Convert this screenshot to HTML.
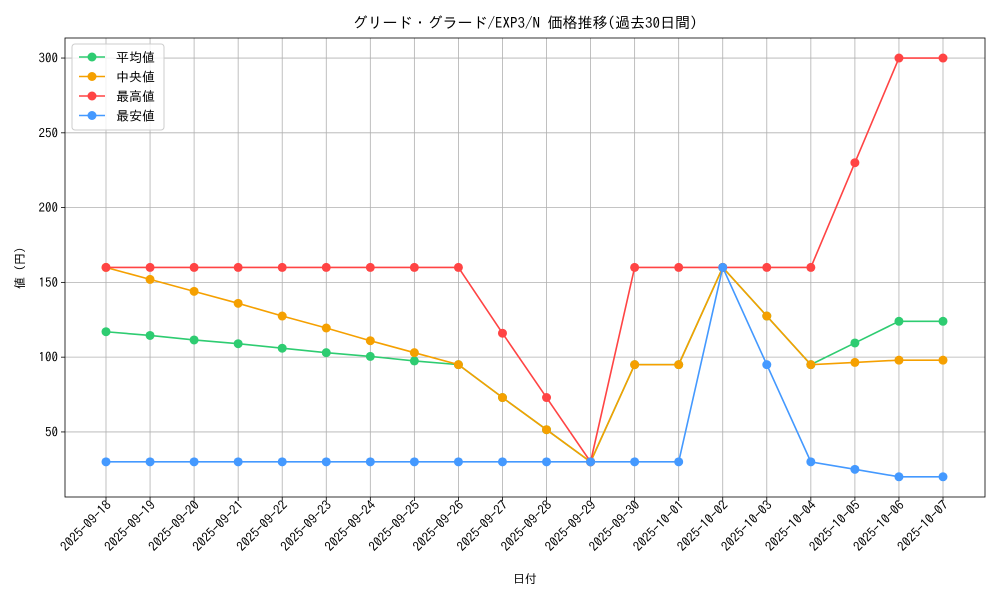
<!DOCTYPE html>
<html><head><meta charset="utf-8"><style>
body{margin:0;background:#fff;}
svg text{font-family:"IPAGothic","Liberation Sans","Noto Sans CJK JP",sans-serif;fill:#000;}
</style></head><body>
<svg id="chart" width="1000" height="600" xmlns="http://www.w3.org/2000/svg"></svg>
<script>
const categories=["2025-09-18","2025-09-19","2025-09-20","2025-09-21","2025-09-22","2025-09-23","2025-09-24","2025-09-25","2025-09-26","2025-09-27","2025-09-28","2025-09-29","2025-09-30","2025-10-01","2025-10-02","2025-10-03","2025-10-04","2025-10-05","2025-10-06","2025-10-07"];
const meanValues=[117,114.5,111.5,109,106,103,100.5,97.5,95,73,51.5,30,95,95,160,127.5,95,109.5,124,124];
const medianValues=[160,152,144,136,127.5,119.5,111,103,95,73,51.5,30,95,95,160,127.5,95,96.5,98,98];
const maxValues=[160,160,160,160,160,160,160,160,160,116,73,30,160,160,160,160,160,230,300,300];
const minValues=[30,30,30,30,30,30,30,30,30,30,30,30,30,30,160,95,30,25,20,20];
const yTicks=[50,100,150,200,250,300];
const seriesNames=["平均値","中央値","最高値","最安値"];
const NS="http://www.w3.org/2000/svg";
const svg=document.getElementById('chart');
const L=65,R=985,T=38,B=497,yMin=6.5,yMax=313.4;
const x=i=>106+i*(943-106)/(categories.length-1);
const y=v=>B-(v-yMin)/(yMax-yMin)*(B-T);
function el(t,a,p){const e=document.createElementNS(NS,t);for(const k in a)e.setAttribute(k,a[k]);(p||svg).appendChild(e);return e;}
categories.forEach((c,i)=>{
 const g=el('line',{x1:x(i),x2:x(i),y1:T,y2:B,stroke:'#b0b0b0','stroke-width':0.8});
 
 
 el('line',{x1:x(i),x2:x(i),y1:B,y2:B+4,stroke:'#000','stroke-width':0.8});
 const t=el('text',{x:0,y:0,'font-size':13,'text-anchor':'end',transform:`translate(${x(i)+6},${B+9}) rotate(-45)`});
 t.textContent=c;
 
 
});
yTicks.forEach(v=>{
 const g=el('line',{x1:L,x2:R,y1:y(v),y2:y(v),stroke:'#b0b0b0','stroke-width':0.8});
 
 
 el('line',{x1:L-4,x2:L,y1:y(v),y2:y(v),stroke:'#000','stroke-width':0.8});
 const t=el('text',{x:L-7,y:y(v)+4.5,'font-size':13,'text-anchor':'end'});
 t.textContent=v;
 
 
});
const frame=el('rect',{x:L,y:T,width:R-L,height:B-T,fill:'none',stroke:'#000','stroke-width':0.8});


const colors=['#2ecc71','#f5a000','#ff4444','#4499ff'];
const data=[meanValues,medianValues,maxValues,minValues];
const keys=['mean','median','max','min'];
data.forEach((vals,s)=>{
 const g=el('g',{});
 
 
 el('polyline',{points:vals.map((v,i)=>x(i)+','+y(v)).join(' '),fill:'none',stroke:colors[s],'stroke-width':1.6},g);
 vals.forEach((v,i)=>{
  const c=el('circle',{cx:x(i),cy:y(v),r:4.5,fill:colors[s]},g);
  
  
 });
});
const title=el('text',{x:525,y:28,'font-size':15,'text-anchor':'middle'});
title.textContent='グリード・グラード/EXP3/N 価格推移(過去30日間)';


const xt=el('text',{x:525,y:583,'font-size':12,'text-anchor':'middle'});
xt.textContent='日付';


const yt=el('text',{x:0,y:0,'font-size':12,'text-anchor':'middle',transform:'translate(24,268) rotate(-90)'});
yt.textContent='値 (円)';


const lg=el('g',{});


el('rect',{x:72,y:44,width:92,height:86,rx:3,fill:'#fff','fill-opacity':0.8,stroke:'#ccc'},lg);
seriesNames.forEach((n,s)=>{
 const yy=57+s*19.5;
 const e=el('g',{},lg);
 
 
 el('line',{x1:79,x2:105,y1:yy,y2:yy,stroke:colors[s],'stroke-width':1.6},e);
 el('circle',{cx:92,cy:yy,r:4.5,fill:colors[s]},e);
 const t=el('text',{x:116,y:yy+5,'font-size':13},e);
 t.textContent=n;
});
</script>
</body></html>
